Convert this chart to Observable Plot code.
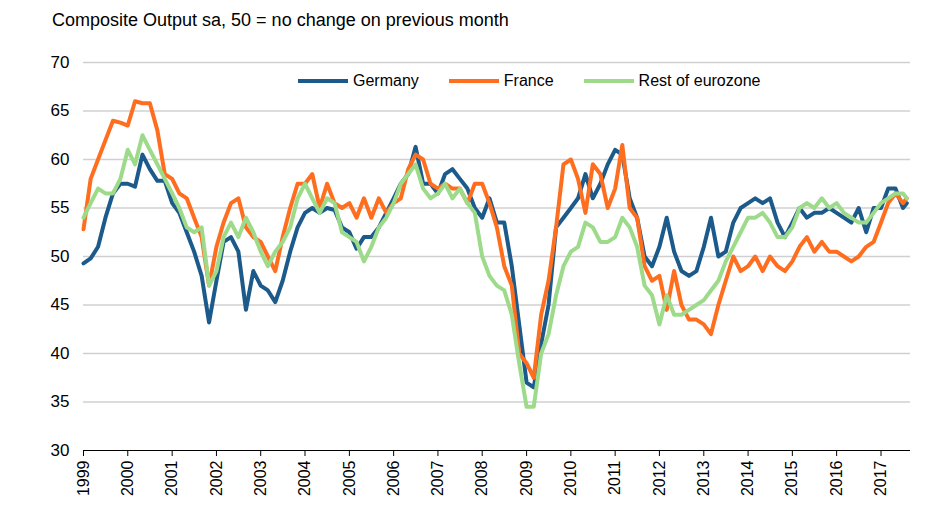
<!DOCTYPE html>
<html><head>
<script src="https://cdn.jsdelivr.net/npm/d3@7"></script>
<script src="https://cdn.jsdelivr.net/npm/@observablehq/plot@0.6"></script>
<style>
body{margin:0;background:#fff;font-family:"Liberation Sans",Arial,sans-serif;}
#wrap{position:relative;width:945px;height:518px;}
#title{position:absolute;left:52px;top:10px;font-size:18px;color:#000;}
#legend{position:absolute;top:72px;left:298px;font-size:16px;display:flex;gap:0;}
.it{display:flex;align-items:center;margin-right:30px}
.sw{width:50px;height:4px;margin-right:5px}
#chart{position:absolute;top:40px;left:0}
</style></head>
<body><div id="wrap"><div id="title">Composite Output sa, 50 = no change on previous month</div><div id="chart"></div>
<div id="legend"></div></div>
<script>
const years = d3.range(1999, 2018);
const months = [1,3,5,7,9,11];
const dates = [];
for (const y of years) for (const m of (y===2017?[1,3,5,7,8]:months)) dates.push(new Date(y, m-1, 1));
const germany = [
49.3,49.8,51,54,56.5,57.5, 57.5,57.2,60.5,59,57.8,57.8, 55.5,54.5,52.5,50.5,48,43.2,
47.5,51.5,52,50.5,44.5,48.5, 47,46.5,45.3,47.5,50.5,53, 54.5,55,54.5,55,54.8,53,
52.5,50.8,52,52,53,54.5, 56,57.5,58.5,61.3,57.5,57.5, 56.5,58.5,59,58,57,55,
54,56,53.5,53.5,49,43, 37,36.5,41,45,53,54, 55,56,58.5,56,57.5,59.5,
61,60.5,56,54,50,49, 51,54,50.5,48.5,48,48.5, 51,54,50,50.5,53.5,55,
55.5,56,55.5,56,53.5,52, 53.5,55,54,54.5,54.5,55, 54.5,54,53.5,55,52.5,55, 55,57,57,55,55.5];
const france = [
52.8,58,60,62,64,63.8, 63.5,66,65.8,65.8,63,58.5, 58,56.5,56,54,52,47,
51,53.5,55.5,56,53,52, 51.5,50,48.5,52,55,57.5, 57.5,58.5,55,57.5,55.5,55,
55.5,54,56,54,56,54.5, 55.5,56,59,60.5,60,57.5, 57,57.5,57,57,55.5,57.5,
57.5,55.5,53,49,47,40, 39,37.5,44,47.5,53,59.5, 60,58,54.5,59.5,58.5,55,
57,61.5,55,54,49,47.5, 48,44.5,48.5,45,43.5,43.5, 43,42,45,47.5,50,48.5,
49,50,48.5,50,49,48.5, 49.5,51,52,50.5,51.5,50.5, 50.5,50,49.5,50,51,51.5, 53.5,55.5,56.5,55.5,56];
const rest = [
54,55.5,57,56.5,56.5,58, 61,59.5,62.5,61,59.5,58, 56.5,55,53,52.5,53,47,
48.5,52,53.5,52,54,52.5, 50.5,49,50.5,51.5,53,56, 57.5,56,54.5,56,55.5,52.5,
52,51.5,49.5,51,53,54, 55.5,57.5,58.5,59.5,57,56, 56.5,57.5,56,57,55.5,54.5,
50,48,47,46.5,44,39, 34.5,34.5,40,42,46,49, 50.5,51,53.5,53,51.5,51.5,
52,54,53,51,47,46, 43,46,44,44,44.5,45, 45.5,46.5,47.5,49.5,51,52.5,
54,54,54.5,53.5,52,52, 53,55,55.5,55,56,55, 55.5,54.5,54,53.5,53.5,54.5, 55.5,56,56.5,56.5,56];
const seriesNames = ["Germany","France","Rest of eurozone"];
const colors = ["#1b5a8a","#ff6d1f","#9ddb8a"];
const yTicks = d3.range(30, 71, 5);
const xTicks = years.map(y => new Date(y,0,1));

const rows = [];
[germany, france, rest].forEach((arr,i)=>arr.forEach((v,j)=>rows.push({date:dates[j], value:v, series:seriesNames[i]})));

const chart = Plot.plot({
  width:945, height:478, marginLeft:83, marginRight:35, marginTop:22, marginBottom:68,
  style:{fontFamily:"Liberation Sans, Arial, sans-serif", fontSize:"17px", color:"#000"},
  x:{type:"utc", domain:[new Date(1999,0,1), new Date(2017,8,1)], label:null},
  y:{domain:[30,70], ticks:yTicks, label:null, tickSize:0, tickPadding:14},
  color:{domain:seriesNames, range:colors},
  marks:[
    Plot.gridY(yTicks.filter(t=>t>30), {stroke:"#d0d0d0", strokeOpacity:1, strokeWidth:1.5}),
    Plot.line(rows, {x:"date", y:"value", z:"series", stroke:"series", strokeWidth:4, curve:"linear"}),
    Plot.ruleY([30], {stroke:"#000"}),
    Plot.axisX({ticks:xTicks, tickFormat:d=>String(d.getFullYear()), tickRotate:-90, tickSize:6, fontSize:16, textAnchor:"end", tickPadding:4})
  ]
});
document.getElementById("chart").appendChild(chart);
const lg = document.getElementById("legend");
seriesNames.forEach((n,i)=>{const d=document.createElement("div");d.className="it";d.innerHTML=`<span class="sw" style="background:${colors[i]}"></span>${n}`;lg.appendChild(d);});
</script></body></html>
